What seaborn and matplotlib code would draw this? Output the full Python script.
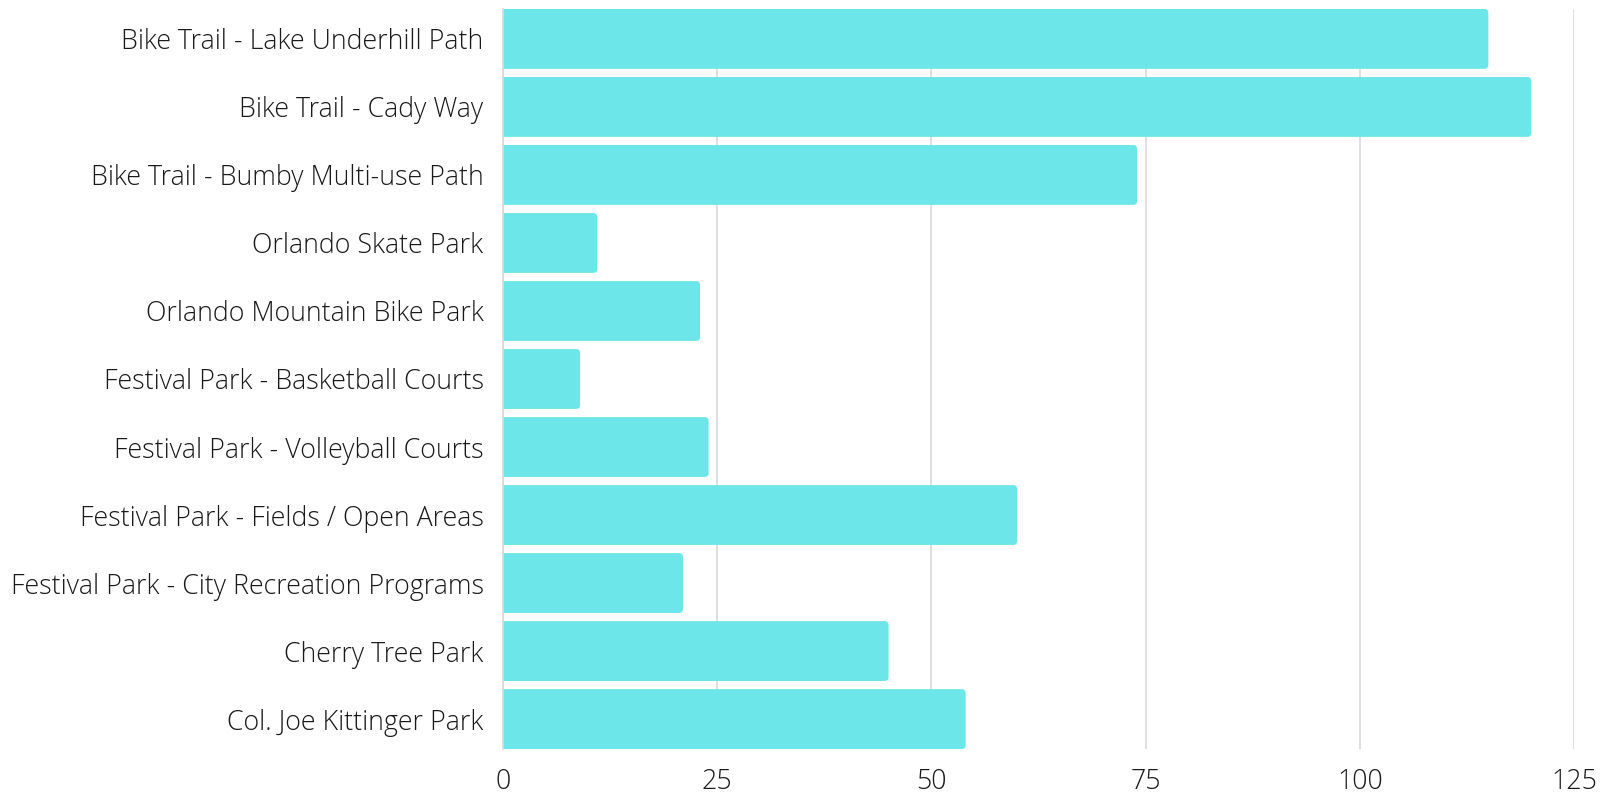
import matplotlib
matplotlib.use("Agg")
import matplotlib.pyplot as plt
from matplotlib import font_manager
from matplotlib.patches import FancyBboxPatch
import seaborn as sns
import pandas as pd

categories = [
    "Bike Trail - Lake Underhill Path",
    "Bike Trail - Cady Way",
    "Bike Trail - Bumby Multi-use Path",
    "Orlando Skate Park",
    "Orlando Mountain Bike Park",
    "Festival Park - Basketball Courts",
    "Festival Park - Volleyball Courts",
    "Festival Park - Fields / Open Areas",
    "Festival Park - City Recreation Programs",
    "Cherry Tree Park",
    "Col. Joe Kittinger Park",
]
values = [115, 120, 74, 11, 23, 9, 24, 60, 21, 45, 54]
x_ticks = [0, 25, 50, 75, 100, 125]

df = pd.DataFrame({"place": categories, "count": values})

sns.set_theme(style="white")
plt.rcParams["font.family"] = ["Open Sans", "DejaVu Sans"]

# Open Sans Light (non-condensed) for the tick labels
light_path = None
for f in font_manager.fontManager.ttflist:
    if f.fname.endswith("OpenSans-Light.ttf"):
        light_path = f.fname
        break
label_size = 19.3
label_font = (font_manager.FontProperties(fname=light_path, size=label_size)
              if light_path else font_manager.FontProperties(family="Open Sans", size=label_size))

fig = plt.figure(figsize=(16.03, 7.93), dpi=100)
ax = fig.add_axes([503 / 1603, 1 - 749 / 793, (1574 - 503) / 1603, (749 - 9) / 793])

bar_color = "#6ce6e8"
bar_w = 0.88
sns.barplot(data=df, x="count", y="place", orient="h", color=bar_color,
            saturation=1, width=bar_w, ax=ax, zorder=2)

ax.set_xlim(0, 125)
ax.set_ylim(len(categories) - 1 + bar_w / 2, -bar_w / 2)

# rounded right-hand corners on each bar (~4 px radius)
px_x = 125 / 1071
px_y = (len(categories) - 1 + bar_w) / 740
radius = 4 * px_x
for p in list(ax.patches):
    x0, y0 = p.get_x(), p.get_y()
    w, h = p.get_width(), p.get_height()
    p.set_visible(False)
    fb = FancyBboxPatch((x0 - 2, y0), w + 2, h,
                        boxstyle=f"round,pad=0,rounding_size={radius}",
                        mutation_aspect=px_y / px_x,
                        facecolor=bar_color, edgecolor="none", zorder=2)
    ax.add_patch(fb)
    fb.set_clip_path(ax.patch)

ax.set_xticks(x_ticks)
ax.set_xticklabels([str(t) for t in x_ticks])
ax.xaxis.grid(True, color="#d9d9d9", linewidth=1.2, zorder=0)
ax.set_axisbelow(True)
for s in ["top", "right", "bottom"]:
    ax.spines[s].set_visible(False)
ax.spines["left"].set_color("#d9d9d9")
ax.spines["left"].set_linewidth(1.2)
ax.set_xlabel("")
ax.set_ylabel("")
ax.tick_params(axis="both", length=0, labelcolor="#1a1a1a")
ax.tick_params(axis="x", pad=14)
ax.tick_params(axis="y", pad=14)
for lab in ax.get_xticklabels() + ax.get_yticklabels():
    lab.set_fontproperties(label_font)

fig.savefig("out.png", dpi=100, facecolor="white")
